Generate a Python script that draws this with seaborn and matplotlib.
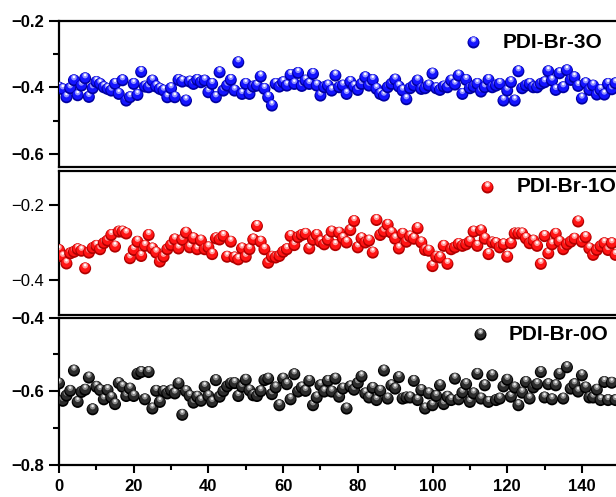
import numpy as np
import pandas as pd
import matplotlib
matplotlib.use("Agg")
import matplotlib.pyplot as plt
from matplotlib.transforms import ScaledTranslation
import seaborn as sns

# ---- data -------------------------------------------------------------
step = np.arange(150)

pdi_br_3o = [
    -0.401, -0.406, -0.430, -0.403, -0.379, -0.424, -0.395, -0.373, -0.429, -0.403,
    -0.384, -0.390, -0.400, -0.405, -0.410, -0.390, -0.420, -0.379, -0.440, -0.430,
    -0.390, -0.423, -0.354, -0.398, -0.400, -0.380, -0.398, -0.405, -0.410, -0.430,
    -0.403, -0.430, -0.378, -0.383, -0.440, -0.383, -0.390, -0.378, -0.385, -0.380,
    -0.415, -0.390, -0.430, -0.355, -0.410, -0.395, -0.378, -0.410, -0.325, -0.420,
    -0.390, -0.420, -0.398, -0.395, -0.368, -0.405, -0.430, -0.455, -0.390, -0.398,
    -0.385, -0.395, -0.363, -0.390, -0.357, -0.396, -0.380, -0.390, -0.360, -0.395,
    -0.425, -0.400, -0.395, -0.410, -0.365, -0.400, -0.395, -0.420, -0.384, -0.398,
    -0.408, -0.390, -0.370, -0.395, -0.378, -0.405, -0.420, -0.425, -0.400, -0.390,
    -0.377, -0.398, -0.410, -0.436, -0.403, -0.395, -0.380, -0.405, -0.403, -0.395,
    -0.359, -0.403, -0.408, -0.398, -0.400, -0.380, -0.392, -0.365, -0.420, -0.378,
    -0.403, -0.398, -0.390, -0.413, -0.400, -0.378, -0.400, -0.395, -0.390, -0.440,
    -0.410, -0.385, -0.440, -0.352, -0.403, -0.395, -0.390, -0.400, -0.400, -0.390,
    -0.385, -0.352, -0.380, -0.408, -0.358, -0.400, -0.349, -0.378, -0.370, -0.396,
    -0.434, -0.388, -0.408, -0.395, -0.422, -0.408, -0.422, -0.390, -0.406, -0.388,
]

pdi_br_1o = [
    -0.320, -0.338, -0.356, -0.329, -0.325, -0.318, -0.322, -0.369, -0.327, -0.315,
    -0.309, -0.318, -0.302, -0.295, -0.280, -0.311, -0.271, -0.271, -0.276, -0.342,
    -0.320, -0.298, -0.336, -0.309, -0.280, -0.316, -0.327, -0.351, -0.338, -0.318,
    -0.307, -0.292, -0.316, -0.293, -0.274, -0.313, -0.289, -0.318, -0.295, -0.318,
    -0.313, -0.331, -0.289, -0.292, -0.283, -0.338, -0.298, -0.340, -0.345, -0.316,
    -0.338, -0.318, -0.292, -0.256, -0.298, -0.318, -0.354, -0.338, -0.340, -0.336,
    -0.325, -0.318, -0.283, -0.307, -0.286, -0.280, -0.277, -0.316, -0.293, -0.280,
    -0.298, -0.305, -0.293, -0.271, -0.307, -0.274, -0.289, -0.300, -0.267, -0.243,
    -0.313, -0.289, -0.300, -0.295, -0.327, -0.240, -0.280, -0.271, -0.253, -0.274,
    -0.290, -0.316, -0.277, -0.298, -0.284, -0.290, -0.262, -0.300, -0.320, -0.322,
    -0.363, -0.338, -0.340, -0.309, -0.357, -0.318, -0.313, -0.304, -0.309, -0.305,
    -0.298, -0.271, -0.309, -0.268, -0.290, -0.331, -0.300, -0.302, -0.313, -0.305,
    -0.338, -0.302, -0.276, -0.276, -0.276, -0.289, -0.302, -0.295, -0.309, -0.357,
    -0.283, -0.329, -0.305, -0.277, -0.298, -0.318, -0.305, -0.298, -0.290, -0.244,
    -0.298, -0.286, -0.316, -0.333, -0.320, -0.310, -0.302, -0.320, -0.302, -0.333,
]

pdi_br_0o = [
    -0.579, -0.626, -0.612, -0.599, -0.544, -0.629, -0.602, -0.596, -0.563, -0.649,
    -0.588, -0.597, -0.622, -0.597, -0.617, -0.635, -0.578, -0.588, -0.613, -0.593,
    -0.613, -0.553, -0.548, -0.622, -0.548, -0.647, -0.599, -0.629, -0.600, -0.606,
    -0.598, -0.606, -0.579, -0.664, -0.600, -0.613, -0.631, -0.615, -0.626, -0.588,
    -0.613, -0.629, -0.570, -0.615, -0.600, -0.587, -0.579, -0.578, -0.613, -0.588,
    -0.569, -0.598, -0.611, -0.613, -0.600, -0.570, -0.566, -0.608, -0.590, -0.638,
    -0.566, -0.581, -0.622, -0.554, -0.601, -0.590, -0.599, -0.572, -0.638, -0.617,
    -0.584, -0.601, -0.572, -0.601, -0.566, -0.615, -0.593, -0.647, -0.587, -0.596,
    -0.578, -0.560, -0.606, -0.617, -0.591, -0.624, -0.599, -0.544, -0.620, -0.584,
    -0.593, -0.562, -0.620, -0.617, -0.617, -0.572, -0.624, -0.597, -0.647, -0.606,
    -0.638, -0.613, -0.584, -0.635, -0.615, -0.624, -0.566, -0.622, -0.604, -0.581,
    -0.629, -0.606, -0.553, -0.620, -0.584, -0.629, -0.557, -0.624, -0.620, -0.587,
    -0.569, -0.615, -0.590, -0.638, -0.604, -0.575, -0.620, -0.590, -0.581, -0.548,
    -0.617, -0.581, -0.622, -0.584, -0.553, -0.620, -0.535, -0.593, -0.581, -0.601,
    -0.557, -0.590, -0.617, -0.617, -0.596, -0.624, -0.575, -0.624, -0.577, -0.624,
]

labels = ["PDI-Br-3O", "PDI-Br-1O", "PDI-Br-0O"]
x_ticks = list(range(0, 141, 20))
x_minor = list(range(10, 151, 20))

# ---- style ------------------------------------------------------------
sns.set_theme(style="ticks")
plt.rcParams["font.family"] = ["Liberation Sans", "DejaVu Sans"]
plt.rcParams["axes.linewidth"] = 1.6
plt.rcParams["axes.edgecolor"] = "black"
plt.rcParams["text.color"] = "black"
plt.rcParams["xtick.color"] = "black"
plt.rcParams["ytick.color"] = "black"
plt.rcParams["xtick.labelcolor"] = "black"
plt.rcParams["ytick.labelcolor"] = "black"

W, H, DPI = 616, 497, 100
fig = plt.figure(figsize=(W / DPI, H / DPI), dpi=DPI)

X_LEFT = 59.0
PX_PER_STEP = 3.735
X_MAX = 160
X_RIGHT = X_LEFT + X_MAX * PX_PER_STEP


def add_panel(top, bottom):
    return fig.add_axes([X_LEFT / W, 1 - bottom / H,
                         (X_RIGHT - X_LEFT) / W, (bottom - top) / H])


# sphere shading layers: name, diameter (px), upward shift (px)
LAYERS = [("rim", 12.0, 0.0), ("body", 10.0, 0.8),
          ("glow", 5.6, 2.7), ("spot", 2.6, 3.3)]
SIZES = {name: (d * 72 / DPI) ** 2 for name, d, _ in LAYERS}

PALETTES = [
    {"rim": "#0000a0", "body": "#1414ff", "glow": "#9090ff", "spot": "#ffffff"},
    {"rim": "#b00000", "body": "#ff1414", "glow": "#ff9c9c", "spot": "#ffffff"},
    {"rim": "#000000", "body": "#2c2c2c", "glow": "#8c8c8c", "spot": "#ececec"},
]


def draw_balls(ax, x, y, palette):
    y0, y1 = ax.get_ylim()
    h_px = ax.get_position().height * H
    per_px = (y1 - y0) / h_px
    rows = []
    for xi, yi in zip(x, y):
        for name, _, shift in LAYERS:
            rows.append((xi, yi + shift * per_px, name))
    df = pd.DataFrame(rows, columns=["x", "y", "layer"])
    sns.scatterplot(data=df, x="x", y="y", hue="layer", palette=palette,
                    size="layer", sizes=SIZES, linewidth=0, legend=False,
                    ax=ax, zorder=3)


def legend_ball(px_x, px_y, palette):
    for name, d, shift in LAYERS:
        tr = fig.transFigure + ScaledTranslation(0, shift / DPI, fig.dpi_scale_trans)
        fig.axes[0].scatter([px_x / W], [1 - px_y / H], s=SIZES[name],
                            color=palette[name], linewidths=0,
                            transform=tr, clip_on=False, zorder=10)


panels = [
    dict(top=20.7, bottom=167.5, ylim=(-0.641, -0.2),
         major=[-0.6, -0.4, -0.2], minor=[-0.5, -0.3], weight="bold",
         values=pdi_br_3o, legend=(473, 42, 503)),
    dict(top=170.7, bottom=315.0, ylim=(-0.4933, -0.1085),
         major=[-0.4, -0.2], minor=[], weight="normal",
         values=pdi_br_1o, legend=(487, 187, 517)),
    dict(top=317.5, bottom=465.0, ylim=(-0.8, -0.4),
         major=[-0.8, -0.6, -0.4], minor=[-0.7, -0.5], weight="bold",
         values=pdi_br_0o, legend=(480, 334, 509)),
]

axes = []
for i, p in enumerate(panels):
    ax = add_panel(p["top"], p["bottom"])
    ax.set_facecolor("none")
    ax.set_xlim(0, X_MAX)
    ax.set_ylim(*p["ylim"])
    draw_balls(ax, step, p["values"], PALETTES[i])
    ax.set_xlim(0, X_MAX)
    ax.set_ylim(*p["ylim"])
    ax.set_xlabel("")
    ax.set_ylabel("")
    ax.spines["right"].set_visible(False)
    for side in ("left", "top", "bottom"):
        ax.spines[side].set_color("black")

    ax.set_yticks(p["major"],
                  labels=[f"{v:.1f}".replace("-", "\u2212") for v in p["major"]],
                  fontsize=12, fontweight=p["weight"], color="black")
    ax.set_yticks(p["minor"], minor=True)
    ax.tick_params(axis="y", which="major", direction="out", length=7.2,
                   width=1.5, pad=3.5, colors="black")
    ax.tick_params(axis="y", which="minor", direction="out", length=4.3,
                   width=1.5, colors="black")

    if i < 2:
        ax.tick_params(axis="x", which="both", bottom=False, labelbottom=False)
    else:
        ax.set_xticks(x_ticks, labels=[str(v) for v in x_ticks],
                      fontsize=12, fontweight="bold", color="black")
        ax.set_xticks(x_minor, minor=True)
        ax.tick_params(axis="x", which="major", direction="out", length=5.8,
                       width=1.5, pad=4.5, colors="black")
        ax.tick_params(axis="x", which="minor", direction="out", length=3.6,
                       width=1.5, colors="black")
    axes.append(ax)

for i, p in enumerate(panels):
    mx, my, tx = p["legend"]
    legend_ball(mx, my, PALETTES[i])
    fig.text(tx / W, 1 - my / H, labels[i], fontsize=15, fontweight="bold",
             color="black", ha="left", va="center")

fig.savefig("out.png", dpi=DPI)
